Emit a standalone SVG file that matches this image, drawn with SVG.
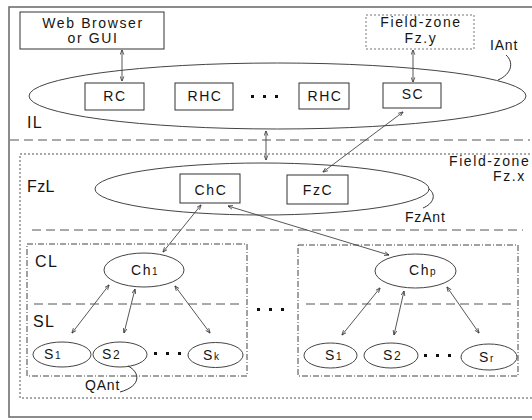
<svg xmlns="http://www.w3.org/2000/svg" width="532" height="420" viewBox="0 0 532 420">
<style>
text{font-family:"Liberation Sans",Arial,sans-serif;fill:#151515;font-size:14px;letter-spacing:1.6px}
.c{text-anchor:middle}
.lay{font-size:16px;letter-spacing:1.4px}
.sub{font-size:10px;letter-spacing:0}
.box{fill:#fff;stroke:#333;stroke-width:1}
.ell{fill:none;stroke:#444;stroke-width:1}
.dash{fill:none;stroke:#555;stroke-width:1;stroke-dasharray:9,5}
.dot{fill:none;stroke:#555;stroke-width:1;stroke-dasharray:2,2}
.dd{fill:none;stroke:#444;stroke-width:1;stroke-dasharray:6,2,1,2}
.arr{stroke:#444;stroke-width:0.9;fill:none;marker-start:url(#a);marker-end:url(#a)}
.cur{fill:none;stroke:#333;stroke-width:1}
.pt{fill:#111}
</style>
<defs>
<marker id="a" viewBox="0 0 8 8" refX="7.5" refY="4" markerWidth="5" markerHeight="5" orient="auto-start-reverse" markerUnits="userSpaceOnUse">
<path d="M0,1 L8,4 L0,7" fill="none" stroke="#333" stroke-width="1.2"/>
</marker>
</defs>
<rect id="frame" x="9" y="7" width="540" height="410" fill="none" stroke="#666" stroke-width="1.5"/>
<g id="layers">
<line class="dash" x1="10" y1="140" x2="530" y2="140"/>
<rect class="dot" x="20" y="154" width="540" height="244"/>
<line class="dash" x1="32" y1="230" x2="523" y2="230"/>
<rect class="dd" x="27" y="244" width="220" height="132"/>
<rect class="dd" x="298" y="245" width="220" height="131"/>
<line class="dash" x1="34" y1="304" x2="242" y2="304"/>
<line class="dash" x1="306" y1="304" x2="516" y2="304"/>
<text class="lay" x="27" y="128">IL</text>
<text class="lay" x="27" y="192" style="letter-spacing:0.4px">FzL</text>
<text class="lay" x="35" y="267">CL</text>
<text class="lay" x="33" y="327">SL</text>
<text x="449" y="166">Field-zone</text>
<text x="493" y="181">Fz.x</text>
</g>
<g id="IAnt">
<ellipse class="ell" cx="277.5" cy="96" rx="248.5" ry="33"/>
<path class="cur" d="M506,55 C514,62 512,74 498,80"/>
<text x="490" y="50" style="letter-spacing:0.8px">IAnt</text>
</g>
<g id="FzAnt">
<ellipse class="ell" cx="262" cy="189" rx="167" ry="26"/>
<path class="cur" d="M429,189 C437,195 433,204 423,208"/>
<text x="405" y="222" style="letter-spacing:0.8px">FzAnt</text>
</g>
<g id="webbrowser">
<rect class="box" x="20" y="12" width="144" height="37"/>
<text class="c" x="93" y="28">Web Browser</text>
<text class="c" x="93" y="43">or GUI</text>
</g>
<g id="fzy">
<rect x="366" y="15" width="108" height="34" fill="#fff" stroke="#777" stroke-width="1" stroke-dasharray="2,2"/>
<text class="c" x="421" y="27">Field-zone</text>
<text class="c" x="421" y="43">Fz.y</text>
</g>
<g id="RC"><rect class="box" x="85" y="83" width="59" height="27"/><text class="c" x="115" y="101">RC</text></g>
<g id="RHC1"><rect class="box" x="175" y="83" width="58" height="27"/><text class="c" x="205" y="101">RHC</text></g>
<g id="RHC2"><rect class="box" x="299" y="83" width="50" height="26"/><text class="c" x="325" y="101">RHC</text></g>
<g id="SC"><rect class="box" x="383" y="83" width="58" height="25"/><text class="c" x="413" y="99">SC</text></g>
<g id="dots1">
<rect class="pt" x="251" y="95" width="3" height="3"/><rect class="pt" x="263" y="95" width="3" height="3"/><rect class="pt" x="275" y="95" width="3" height="3"/>
</g>
<g id="ChC"><rect class="box" x="180" y="174" width="60" height="29"/><text class="c" x="211" y="195">ChC</text></g>
<g id="FzC"><rect class="box" x="287" y="175" width="61" height="29"/><text class="c" x="318" y="195">FzC</text></g>
<g id="Ch1"><ellipse class="ell" cx="144" cy="270" rx="40" ry="17"/><text x="131" y="275">Ch<tspan class="sub">1</tspan></text></g>
<g id="Chp"><ellipse class="ell" cx="415.5" cy="271" rx="40.5" ry="17"/><text x="409" y="275">Ch<tspan class="sub">p</tspan></text></g>
<g id="dots2">
<rect class="pt" x="257" y="308" width="3" height="3"/><rect class="pt" x="269" y="308" width="3" height="3"/><rect class="pt" x="281" y="308" width="3" height="3"/>
</g>
<g id="S1a"><ellipse class="ell" cx="62" cy="354.5" rx="29" ry="12.5"/><text x="44" y="359">S<tspan class="sub">1</tspan></text></g>
<g id="S2a"><ellipse class="ell" cx="120" cy="354.5" rx="27" ry="12.5"/><text x="102" y="359">S<tspan class="sub" style="font-size:12px">2</tspan></text></g>
<g id="Ska"><ellipse class="ell" cx="215.5" cy="355" rx="27.5" ry="12.5"/><text x="203" y="360">S<tspan class="sub">k</tspan></text></g>
<g id="dots3">
<rect class="pt" x="154" y="352" width="3" height="3"/><rect class="pt" x="166" y="352" width="3" height="3"/><rect class="pt" x="178" y="352" width="3" height="3"/>
</g>
<g id="QAnt">
<path class="cur" d="M128,366 C140,372 142,386 120,392"/>
<text x="85" y="390" style="letter-spacing:0.8px">QAnt</text>
</g>
<g id="S1b"><ellipse class="ell" cx="330.5" cy="355.5" rx="26.5" ry="12.5"/><text x="325" y="360">S<tspan class="sub">1</tspan></text></g>
<g id="S2b"><ellipse class="ell" cx="391" cy="355.5" rx="27" ry="12.5"/><text x="383" y="360">S<tspan class="sub" style="font-size:12px">2</tspan></text></g>
<g id="Srb"><ellipse class="ell" cx="489" cy="357" rx="28" ry="13"/><text x="479" y="362">S<tspan class="sub">r</tspan></text></g>
<g id="dots4">
<rect class="pt" x="424" y="354" width="3" height="3"/><rect class="pt" x="436" y="354" width="3" height="3"/><rect class="pt" x="448" y="354" width="3" height="3"/>
</g>
<g id="connectors">
<line class="arr" x1="122" y1="50" x2="122" y2="81"/>
<line class="arr" x1="413" y1="50" x2="413" y2="82"/>
<line class="arr" x1="266" y1="131" x2="266" y2="160"/>
<line class="arr" x1="403" y1="112" x2="323" y2="172"/>
<line class="arr" x1="201" y1="205" x2="163" y2="252"/>
<line class="arr" x1="228" y1="206" x2="389" y2="255"/>
<line class="arr" x1="109" y1="285" x2="72" y2="333"/>
<line class="arr" x1="135" y1="289" x2="124" y2="333"/>
<line class="arr" x1="175" y1="286" x2="210" y2="333"/>
<line class="arr" x1="380" y1="288" x2="342" y2="335"/>
<line class="arr" x1="404" y1="291" x2="394" y2="335"/>
<line class="arr" x1="447" y1="287" x2="479" y2="333"/>
</g>
</svg>
